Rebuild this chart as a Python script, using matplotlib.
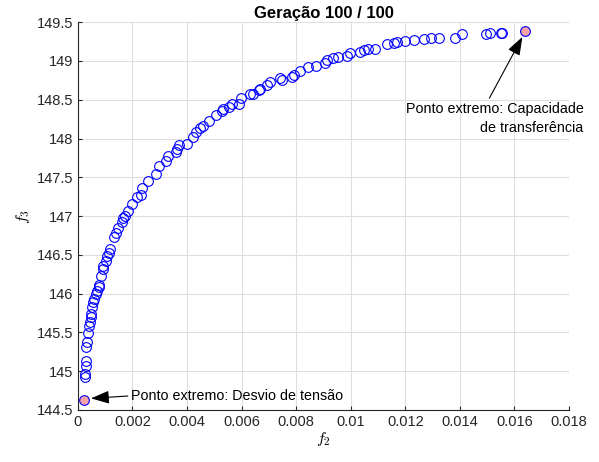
import matplotlib
matplotlib.use('agg')
import matplotlib.pyplot as plt

plt.rcParams['font.family'] = ['Liberation Sans', 'DejaVu Sans']
plt.rcParams['mathtext.fontset'] = 'cm'

# Pareto front, generation 100
f2 = [0.000257, 0.000257, 0.00028, 0.00029, 0.00029, 0.00034, 0.00038, 0.00041,
      0.00045, 0.00048, 0.00048, 0.00053, 0.00056, 0.0006, 0.00065, 0.00071,
      0.00076, 0.00078, 0.00086, 0.00091, 0.00093, 0.00103, 0.00108, 0.00115,
      0.00117, 0.00131, 0.00139, 0.00148, 0.00161, 0.00166, 0.00172, 0.00185,
      0.00198, 0.00215, 0.00231, 0.00235, 0.00258, 0.00286, 0.00298, 0.00322,
      0.00331, 0.0036, 0.00364, 0.00372, 0.00401, 0.00421, 0.00432, 0.00448,
      0.00458, 0.0048, 0.00506, 0.00527, 0.00533, 0.00555, 0.00563, 0.00592,
      0.00597, 0.00631, 0.00641, 0.00662, 0.00668, 0.00692, 0.00705, 0.00739,
      0.00748, 0.00783, 0.00793, 0.00815, 0.00844, 0.00873, 0.00906, 0.00913,
      0.00934, 0.00955, 0.00986, 0.00998, 0.01035, 0.01047, 0.01062, 0.0109,
      0.01133, 0.0116, 0.0117, 0.012, 0.01233, 0.01267, 0.01294, 0.01322,
      0.01383, 0.01408, 0.01494, 0.01509, 0.01549, 0.01555]
f3 = [144.93, 144.96, 145.07, 145.13, 145.31, 145.38, 145.49, 145.58,
      145.64, 145.70, 145.74, 145.83, 145.89, 145.93, 145.99, 146.04,
      146.09, 146.11, 146.23, 146.32, 146.36, 146.42, 146.48, 146.52,
      146.57, 146.73, 146.78, 146.84, 146.93, 146.97, 147.00, 147.07,
      147.15, 147.24, 147.27, 147.36, 147.45, 147.54, 147.64, 147.71,
      147.78, 147.83, 147.87, 147.91, 147.93, 148.02, 148.09, 148.13,
      148.16, 148.23, 148.30, 148.36, 148.38, 148.41, 148.45, 148.45,
      148.52, 148.58, 148.58, 148.62, 148.64, 148.69, 148.73, 148.78,
      148.76, 148.79, 148.82, 148.87, 148.92, 148.93, 148.98, 149.01,
      149.04, 149.05, 149.07, 149.10, 149.12, 149.14, 149.16, 149.16,
      149.22, 149.23, 149.24, 149.26, 149.27, 149.28, 149.29, 149.30,
      149.29, 149.35, 149.35, 149.36, 149.36, 149.36]

# extreme points
ext_f2 = [0.00021, 0.0164]
ext_f3 = [144.63, 149.38]

xticks = [0, 0.002, 0.004, 0.006, 0.008, 0.01, 0.012, 0.014, 0.016, 0.018]
xticklabels = ['0', '0.002', '0.004', '0.006', '0.008', '0.01', '0.012',
               '0.014', '0.016', '0.018']
yticks = [144.5, 145, 145.5, 146, 146.5, 147, 147.5, 148, 148.5, 149, 149.5]
yticklabels = ['144.5', '145', '145.5', '146', '146.5', '147', '147.5',
               '148', '148.5', '149', '149.5']

fig = plt.figure(figsize=(5.99, 4.62), dpi=100)
ax = fig.add_axes([0.130, 0.1126, 0.820, 0.8394])

ax.plot(f2, f3, linestyle='none', marker='o', markersize=7,
        markerfacecolor='none', markeredgecolor='blue', markeredgewidth=0.8)
ax.plot(ext_f2, ext_f3, linestyle='none', marker='o', markersize=7,
        markerfacecolor='#f4a3a8', markeredgecolor='blue', markeredgewidth=0.8)

# Annotations
arrow = dict(arrowstyle='-|>,head_length=0.7,head_width=0.25', color='black',
             lw=0.8, mutation_scale=16, shrinkA=0, shrinkB=0)
ax.annotate('', xy=(0.00048, 144.65), xytext=(0.00183, 144.68), arrowprops=arrow)
ax.text(0.00195, 144.68, 'Ponto extremo: Desvio de tensão', fontsize=10.3,
        ha='left', va='center')
ax.annotate('', xy=(0.01629, 149.31), xytext=(0.01508, 148.52), arrowprops=arrow)
ax.text(0.01853, 148.26, 'Ponto extremo: Capacidade\nde transferência',
        fontsize=10.3, ha='right', va='center', multialignment='right',
        linespacing=1.45)

# Limits
ax.set_xlim(0, 0.018)
ax.set_ylim(144.5, 149.5)
ax.set_xticks(xticks)
ax.set_xticklabels(xticklabels)
ax.set_yticks(yticks)
ax.set_yticklabels(yticklabels)

ax.grid(True, color='#dedede', linewidth=0.8)
ax.set_axisbelow(True)
for s in ['top', 'right']:
    ax.spines[s].set_visible(False)
for s in ['left', 'bottom']:
    ax.spines[s].set_color('#262626')
    ax.spines[s].set_linewidth(0.8)
ax.tick_params(direction='in', length=3, width=0.8, colors='#262626',
               labelsize=10.5, labelcolor='#262626')

# Labels
ax.set_title('Geração 100 / 100', fontsize=12, fontweight='bold', pad=3)
ax.set_xlabel('$f_2$', fontsize=11.5, labelpad=1)
ax.set_ylabel('$f_3$', fontsize=11.5, labelpad=3)

# Save
fig.savefig('out.png', dpi=100)
